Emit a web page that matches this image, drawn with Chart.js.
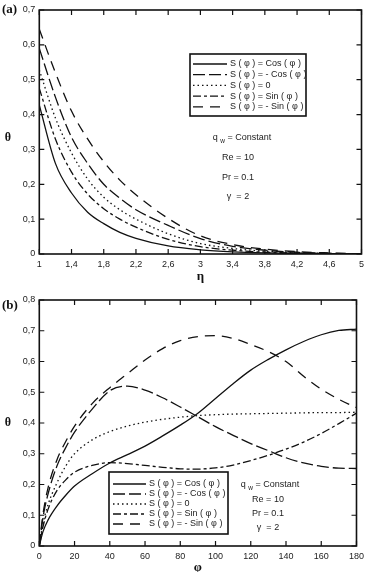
<!DOCTYPE html>
<html>
<head>
<meta charset="utf-8">
<script src="https://cdn.jsdelivr.net/npm/chart.js@4.4.1/dist/chart.umd.min.js"></script>
<style>
  html, body { margin: 0; padding: 0; background: #fff; }
  body { width: 369px; height: 572px; position: relative; overflow: hidden; }
  .panel { position: absolute; left: 0; width: 369px; }
  .tag { position: absolute; left: 2px; font: bold 13px "Liberation Serif", serif; color: #111; z-index: 2; }
</style>
</head>
<body>
<div class="panel" style="top:0;height:285px"><canvas id="chartA" width="369" height="285"></canvas></div>
<div class="panel" style="top:285px;height:287px"><canvas id="chartB" width="369" height="287"></canvas></div>
<div class="tag" style="top:1px">(a)</div>
<div class="tag" style="top:297px">(b)</div>
<script>
// series labels (same for both panels)
const LABELS = ["S ( φ ) = Cos ( φ )", "S ( φ ) = - Cos ( φ )", "S ( φ ) = 0", "S ( φ ) = Sin ( φ )", "S ( φ ) = - Sin ( φ )"];

// panel (a): theta vs eta
const ETA = [1, 1.2, 1.4, 1.6, 1.8, 2.0, 2.2, 2.6, 3.0, 3.4, 3.8, 4.2, 4.6, 5];
const A_COS     = [0.427, 0.26, 0.175, 0.12, 0.087, 0.062, 0.045, 0.023, 0.012, 0.006, 0.003, 0.0015, 0.0007, 0];
const A_NEG_COS = [0.59, 0.45, 0.335, 0.26, 0.2, 0.16, 0.127, 0.082, 0.044, 0.022, 0.011, 0.005, 0.002, 0];
const A_ZERO    = [0.528, 0.39, 0.29, 0.215, 0.163, 0.127, 0.1, 0.058, 0.03, 0.016, 0.008, 0.004, 0.0015, 0];
const A_SIN     = [0.475, 0.33, 0.235, 0.172, 0.13, 0.1, 0.077, 0.042, 0.021, 0.011, 0.005, 0.0025, 0.001, 0];
const A_NEG_SIN = [0.645, 0.52, 0.41, 0.33, 0.265, 0.212, 0.17, 0.102, 0.052, 0.027, 0.014, 0.007, 0.003, 0];
const A_X_TICKS = [1, 1.4, 1.8, 2.2, 2.6, 3, 3.4, 3.8, 4.2, 4.6, 5];
const A_Y_TICKS = [0, 0.1, 0.2, 0.3, 0.4, 0.5, 0.6, 0.7];

// panel (b): theta vs phi
const PHI = [0, 2, 5, 10, 15, 20, 30, 40, 50, 60, 70, 80, 90, 100, 110, 120, 130, 140, 150, 160, 170, 180];
const B_COS     = [0, 0.045, 0.085, 0.13, 0.165, 0.195, 0.235, 0.27, 0.297, 0.325, 0.358, 0.393, 0.432, 0.48, 0.528, 0.572, 0.607, 0.638, 0.665, 0.687, 0.701, 0.705];
const B_NEG_COS = [0, 0.09, 0.17, 0.26, 0.32, 0.37, 0.445, 0.505, 0.52, 0.507, 0.482, 0.452, 0.42, 0.388, 0.36, 0.333, 0.31, 0.287, 0.27, 0.259, 0.253, 0.252];
const B_ZERO    = [0, 0.07, 0.135, 0.205, 0.26, 0.3, 0.345, 0.372, 0.39, 0.403, 0.412, 0.419, 0.424, 0.427, 0.429, 0.43, 0.431, 0.432, 0.433, 0.434, 0.434, 0.435];
const B_SIN     = [0, 0.06, 0.12, 0.18, 0.215, 0.24, 0.262, 0.271, 0.268, 0.262, 0.256, 0.251, 0.25, 0.254, 0.263, 0.278, 0.295, 0.315, 0.338, 0.366, 0.398, 0.432];
const B_NEG_SIN = [0, 0.1, 0.19, 0.28, 0.34, 0.39, 0.463, 0.515, 0.56, 0.605, 0.642, 0.668, 0.681, 0.684, 0.675, 0.655, 0.632, 0.6, 0.552, 0.51, 0.477, 0.45];
const B_X_TICKS = [0, 20, 40, 60, 80, 100, 120, 140, 160, 180];
const B_Y_TICKS = [0, 0.1, 0.2, 0.3, 0.4, 0.5, 0.6, 0.7, 0.8];

const INK = '#111';
const DASHES = [[], [12, 4], [1.5, 3], [8, 3, 3, 3], [10, 7]];

Chart.defaults.font.family = '"Liberation Sans", Arial, sans-serif';
Chart.defaults.font.size = 9;
Chart.defaults.color = '#222';

const comma = v => String(+(+v).toFixed(2)).replace('.', ',');

function makeSets(xs, series) {
  return series.map((ys, i) => ({
    label: LABELS[i],
    data: xs.map((x, j) => ({ x: x, y: ys[j] })),
    borderColor: INK,
    borderWidth: 1.3,
    borderDash: DASHES[i],
    pointRadius: 0,
    fill: false,
    cubicInterpolationMode: 'monotone'
  }));
}

// box round the plot, with ticks pointing inwards on all four sides
const frame = {
  id: 'frame',
  afterDatasetsDraw(chart) {
    const { ctx, chartArea: a, scales } = chart;
    ctx.save();
    ctx.strokeStyle = INK;
    ctx.lineWidth = 1.2;
    ctx.beginPath();
    scales.x.ticks.forEach(t => {
      const px = scales.x.getPixelForValue(t.value);
      ctx.moveTo(px, a.bottom); ctx.lineTo(px, a.bottom - 5);
      ctx.moveTo(px, a.top); ctx.lineTo(px, a.top + 5);
    });
    scales.y.ticks.forEach(t => {
      const py = scales.y.getPixelForValue(t.value);
      ctx.moveTo(a.left, py); ctx.lineTo(a.left + 5, py);
      ctx.moveTo(a.right, py); ctx.lineTo(a.right - 5, py);
    });
    ctx.stroke();
    ctx.lineWidth = 1.6;
    ctx.strokeRect(a.left, a.top, a.right - a.left, a.bottom - a.top);
    ctx.restore();
  }
};

// legend box, parameter notes and the upright theta label
const notes = {
  id: 'notes',
  afterDraw(chart, args, o) {
    const { ctx, chartArea: a } = chart;
    ctx.save();
    // theta
    ctx.fillStyle = INK;
    ctx.font = 'bold 12px "Liberation Serif", serif';
    ctx.textAlign = 'center';
    ctx.textBaseline = 'middle';
    ctx.fillText('θ', o.thetaX, (a.top + a.bottom) / 2 + o.thetaDy);

    // legend
    const b = o.box;
    ctx.fillStyle = '#fff';
    ctx.fillRect(b.x, b.y, b.w, b.h);
    ctx.strokeStyle = INK;
    ctx.lineWidth = 1.6;
    ctx.strokeRect(b.x, b.y, b.w, b.h);
    ctx.font = '9px "Liberation Sans", Arial, sans-serif';
    ctx.textAlign = 'left';
    chart.data.datasets.forEach((ds, i) => {
      const yy = b.row0 + i * b.rowH;
      ctx.setLineDash(ds.borderDash);
      ctx.lineWidth = 1.3;
      ctx.beginPath();
      ctx.moveTo(b.s0, yy); ctx.lineTo(b.s1, yy);
      ctx.stroke();
      ctx.setLineDash([]);
      ctx.fillStyle = '#222';
      ctx.fillText(ds.label, b.s1 + 3, yy);
    });

    // parameters
    const t = o.text;
    ctx.fillStyle = '#222';
    ctx.textAlign = 'left';
    const q = 'q', w = 'w', rest = ' = Constant';
    ctx.font = '9px "Liberation Sans", Arial, sans-serif';
    const wq = ctx.measureText(q + ' ').width, wr = ctx.measureText(rest).width;
    ctx.font = '6.5px "Liberation Sans", Arial, sans-serif';
    const ww = ctx.measureText(w).width;
    let x0 = t.qx - (wq + ww + wr) / 2;
    ctx.font = '9px "Liberation Sans", Arial, sans-serif';
    ctx.fillText(q, x0, t.rows[0]);
    ctx.font = '6.5px "Liberation Sans", Arial, sans-serif';
    ctx.fillText(w, x0 + wq, t.rows[0] + 3);
    ctx.font = '9px "Liberation Sans", Arial, sans-serif';
    ctx.fillText(rest, x0 + wq + ww, t.rows[0]);
    ctx.textAlign = 'center';
    ctx.fillText('Re = 10', t.cx, t.rows[1]);
    ctx.fillText('Pr = 0.1', t.cx, t.rows[2]);
    ctx.fillText('γ  = 2', t.cx, t.rows[3]);
    ctx.restore();
  }
};

function axisX(min, max, tickList, fmt, title, h, titlePad) {
  return {
    type: 'linear', min: min, max: max,
    afterBuildTicks: s => { s.ticks = tickList.map(v => ({ value: v })); },
    afterFit: s => { s.height = h; },
    grid: { display: false, drawTicks: false }, border: { display: false },
    ticks: { callback: fmt, padding: 5, maxRotation: 0, autoSkip: false, color: '#222' },
    title: { display: true, text: title, color: INK, padding: titlePad,
             font: { family: '"Liberation Serif", serif', size: 13, weight: 'bold' } }
  };
}
function axisY(min, max, tickList) {
  return {
    type: 'linear', min: min, max: max,
    afterBuildTicks: s => { s.ticks = tickList.map(v => ({ value: v })); },
    afterFit: s => { s.width = 39.3; },
    grid: { display: false, drawTicks: false }, border: { display: false },
    ticks: { callback: comma, padding: 4, autoSkip: false, color: '#222' }
  };
}

new Chart(document.getElementById('chartA'), {
  type: 'line',
  data: { datasets: makeSets(ETA, [A_COS, A_NEG_COS, A_ZERO, A_SIN, A_NEG_SIN]) },
  options: {
    responsive: false, animation: false, devicePixelRatio: 1,
    layout: { padding: { top: 10, right: 6, left: 0, bottom: 0 } },
    scales: {
      x: axisX(1, 5, A_X_TICKS, comma, 'η', 31, { top: 0, bottom: 1 }),
      y: axisY(0, 0.7, A_Y_TICKS)
    },
    plugins: {
      legend: { display: false }, tooltip: { enabled: false },
      notes: {
        thetaX: 8, thetaDy: 6,
        box: { x: 190, y: 54, w: 116, h: 62, row0: 64, rowH: 10.7, s0: 193, s1: 227 },
        text: { qx: 242, cx: 238, rows: [138, 158, 178, 197] }
      }
    }
  },
  plugins: [frame, notes]
});

new Chart(document.getElementById('chartB'), {
  type: 'line',
  data: { datasets: makeSets(PHI, [B_COS, B_NEG_COS, B_ZERO, B_SIN, B_NEG_SIN]) },
  options: {
    responsive: false, animation: false, devicePixelRatio: 1,
    layout: { padding: { top: 15, right: 7, left: 0, bottom: 0 } },
    scales: {
      x: axisX(0, 180, B_X_TICKS, v => String(v), 'φ', 26, { top: 0, bottom: -3 }),
      y: axisY(0, 0.8, B_Y_TICKS)
    },
    plugins: {
      legend: { display: false }, tooltip: { enabled: false },
      notes: {
        thetaX: 8, thetaDy: 0,
        box: { x: 109, y: 187, w: 119, h: 62, row0: 199, rowH: 10, s0: 113, s1: 146 },
        text: { qx: 270, cx: 268, rows: [200, 215, 229, 243] }
      }
    }
  },
  plugins: [frame, notes]
});
</script>
</body>
</html>
